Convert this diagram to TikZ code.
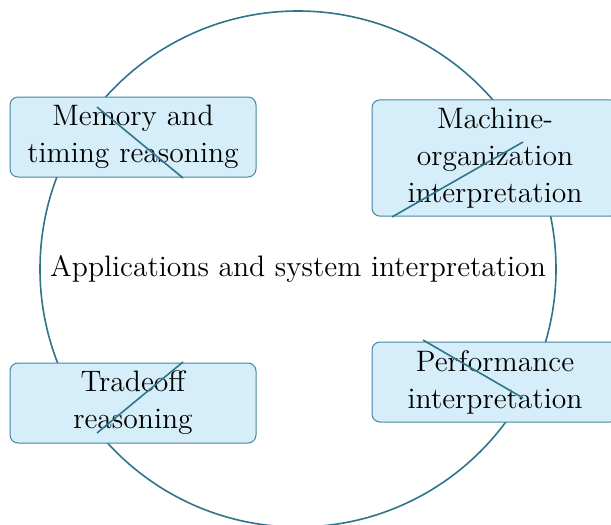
\documentclass[tikz,border=0pt]{standalone}
\definecolor{ringc}{RGB}{46,117,140}
\definecolor{boxfill}{RGB}{214,238,249}
\definecolor{boxdraw}{RGB}{70,135,160}
\begin{document}
\begin{tikzpicture}[x=0.5pt,y=-0.5pt,
  topic/.style={draw=boxdraw, line width=0.5pt, fill=boxfill, rounded corners=4pt,
    text width=110pt, align=center, inner sep=4pt, minimum width=123pt, minimum height=40pt,
    font=\fontsize{14.8}{18.5}\selectfont},
  ring/.style={draw=ringc, line width=0.8pt},
  mark line/.style={draw=ringc, line width=0.8pt}]
\useasboundingbox (0,0) rectangle (611,525);
\coordinate (c) at (298,269);
\draw[ring] (c) circle[radius=129pt];
\node[font=\fontsize{14.8}{18.5}\selectfont] (center) at (c) {Applications and system interpretation};
\node[topic] (mem) at (133,137) {Memory and timing reasoning};
\node[topic] (mach) at (495,158) {Machine-organization interpretation};
\node[topic] (trade) at (133,403) {Tradeoff reasoning};
\node[topic] (perf) at (495,382) {Performance interpretation};
\coordinate (m1) at (97,107); \coordinate (m2) at (183,178);
\coordinate (a1) at (523,142); \coordinate (a2) at (392,217);
\coordinate (t1) at (183,362); \coordinate (t2) at (97,433);
\coordinate (p1) at (423,340); \coordinate (p2) at (523,398);
\draw[mark line] (m1) -- (m2);
\draw[mark line] (a1) -- (a2);
\draw[mark line] (t1) -- (t2);
\draw[mark line] (p1) -- (p2);
\end{tikzpicture}
\end{document}
